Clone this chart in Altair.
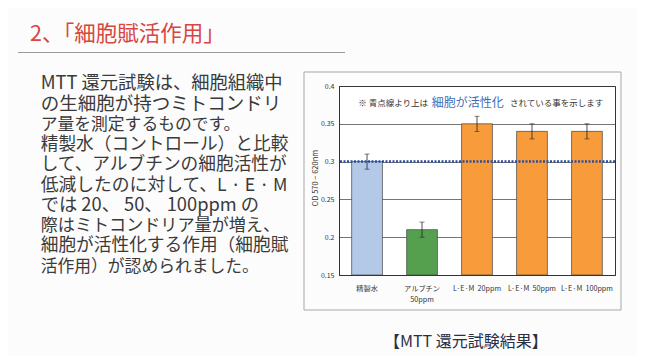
import altair as alt
import pandas as pd

# ---- data ----
categories = ["精製水", "アルブチン|50ppm", "L·E·M\u00a0\u00a020ppm",
              "L·E·M\u00a0\u00a050ppm", "L·E·M\u00a0\u00a0100ppm"]
values = [0.30, 0.21, 0.35, 0.34, 0.34]
errors = [0.01, 0.01, 0.01, 0.01, 0.01]
bar_colors = ["#b4c9e7", "#55a04e", "#f89b3b", "#f89b3b", "#f89b3b"]
threshold = [0.30]
y_ticks = [0.15, 0.2, 0.25, 0.3, 0.35, 0.4]

title_text = "2、「細胞賦活作用」"
paragraph = [
    "MTT 還元試験は、細胞組織中",
    "の生細胞が持つミトコンドリ",
    "ア量を測定するものです。",
    "精製水（コントロール）と比較",
    "して、アルブチンの細胞活性が",
    "低減したのに対して、L · E · M",
    "では 20、 50、 100ppm の",
    "際はミトコンドリア量が増え、",
    "細胞が活性化する作用（細胞賦",
    "活作用）が認められました。",
]
note_a = "※ 青点線より上は"
note_b = "細胞が活性化"
note_c = "されている事を示します"
caption = "【MTT 還元試験結果】"

df = pd.DataFrame({
    "cat": categories,
    "val": values,
    "lo": [v - e for v, e in zip(values, errors)],
    "hi": [v + e for v, e in zip(values, errors)],
    "color": bar_colors,
})

FONT = "Noto Sans CJK JP"
W, H = 276, 189
PAD_L, PAD_T = 331, 78

xaxis = alt.Axis(title=None, labelAngle=0, labelExpr="split(datum.label, '|')",
                 labelFontSize=7.2, labelColor="#333", labelPadding=9,
                 labelLineHeight=11.5, tickSize=0, domainColor="#333")
yaxis = alt.Axis(values=y_ticks, format="~g", labelFontSize=7, labelColor="#333",
                 tickSize=0, labelPadding=5, domainColor="#333",
                 grid=True, gridColor="#3a3a3a", gridWidth=0.7,
                 title="OD 570 − 620nm", titleFontSize=7.5, titleFontWeight="normal",
                 titleColor="#333", titleX=-23.5, titleY=H / 2 - 3,
                 titleBaseline="middle")
xscale = alt.Scale(paddingInner=0.44, paddingOuter=0.23)
yscale = alt.Scale(domain=[0.15, 0.4], zero=False, nice=False)


def X():
    return alt.X("cat:N", sort=categories, scale=xscale, axis=xaxis)


def Y(field):
    return alt.Y(field, scale=yscale, axis=yaxis)


bars = alt.Chart(df).mark_bar(stroke="#444", strokeWidth=0.7).encode(
    x=X(), y=Y("val:Q"), y2=alt.datum(0.15),
    color=alt.Color("color:N", scale=None),
)

err = alt.Chart(df).mark_rule(color="#222", strokeWidth=0.8).encode(
    x=X(), y=Y("lo:Q"), y2="hi:Q")
cap_hi = alt.Chart(df).mark_tick(color="#222", thickness=0.8, size=5).encode(
    x=X(), y=Y("hi:Q"))
cap_lo = alt.Chart(df).mark_tick(color="#222", thickness=0.8, size=5).encode(
    x=X(), y=Y("lo:Q"))

thr = alt.Chart(pd.DataFrame({"t": threshold})).mark_rule(
    color="#2d4e9a", strokeWidth=2.5, strokeDash=[2, 1.5]).encode(y=Y("t:Q"))


def txt(text, Xp, Yp, size, color, align="left"):
    return alt.Chart(pd.DataFrame({"t": [text]})).mark_text(
        align=align, baseline="middle", fontSize=size, color=color, font=FONT).encode(
        text="t:N", x=alt.value(Xp - PAD_L - 8), y=alt.value(Yp - PAD_T - 8))


frame = alt.Chart(pd.DataFrame({"a": [0]})).mark_rect(
    fillOpacity=0, stroke="#a8a8a8", strokeWidth=1).encode(
    x=alt.value(304 - PAD_L - 8), x2=alt.value(621 - PAD_L - 8),
    y=alt.value(72 - PAD_T - 8), y2=alt.value(310 - PAD_T - 8))

underline = alt.Chart(pd.DataFrame({"a": [0]})).mark_rule(color="#9a9a9a", strokeWidth=1).encode(
    x=alt.value(18 - PAD_L - 8), x2=alt.value(345 - PAD_L - 8), y=alt.value(52.5 - PAD_T - 8))

para_sizes = [18.3, 18.5, 16.8, 17.7, 17.7, 17.8, 18.3, 17.1, 17.7, 16.8]
layers = [frame, underline, bars, err, cap_hi, cap_lo, thr,
          txt(title_text, 30, 35, 21.5, "#d8463f"),
          txt(note_a, 358.3, 103.3, 8.5, "#333"),
          txt(note_b, 431.7, 103.3, 12, "#3d6cb4"),
          txt(note_c, 510, 103.3, 8.5, "#333"),
          txt(caption, 384, 341.7, 16, "#2b2f45")]
for i, line in enumerate(paragraph):
    layers.append(txt(line, 40.7, 84 + i * 20.3, para_sizes[i], "#3a3a3a"))

chart = alt.layer(*layers).properties(
    width=W, height=H,
    autosize=alt.AutoSizeParams(type="none"),
    padding={"left": PAD_L, "top": PAD_T, "right": 629 - PAD_L - W, "bottom": 348 - PAD_T - H},
).configure(background="#fcfcfc", font=FONT).configure_view(stroke="#333", strokeWidth=1, fill="white")

chart.save("out.html", embed_options={"renderer": "svg", "actions": False})
